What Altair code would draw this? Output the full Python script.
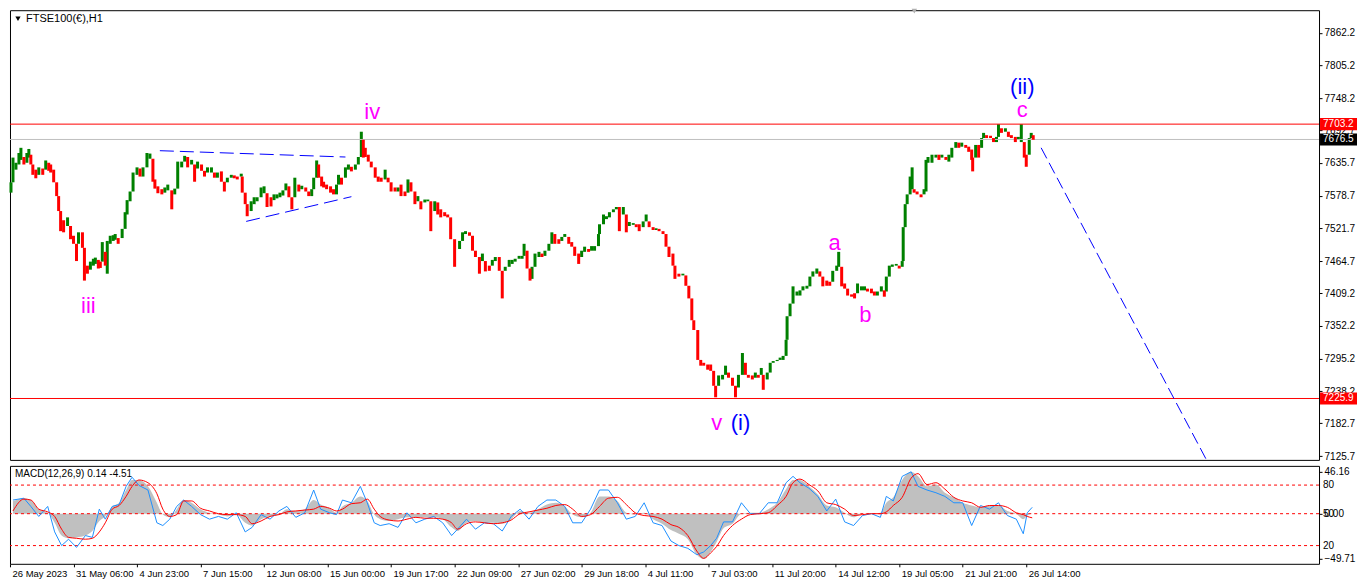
import altair as alt
import pandas as pd
import numpy as np

# ---------------- price data (hourly bars, sampled), bar index from left edge ----------------
bar_idx = [1,3,6,9,11,14,17,19,21,23,26,29,33,36,39,41,44,47,49,51,54,58,61,64,67,69,73,75,78,81,84,86,89,91,93,96,98,
           101,104,106,109,113,116,118,121,124,128,131,134,138,141,144,146,149,153,156,159,163,166,169,173,176,179,183,186,189,193,196,199,
           203,206,209,213,216,219,223,226,229,233,234,237,239,243,246,249,253,256,259,
           263,266,269,272,275,278,281,284,287,291,294,298,301,304,306,309,311,314,316,319,323,326,329,331,334,338,341,344,348,351,354,356,358,
           361,364,368,371,374,378,381,384,388,391,394,398,401,404,408,411,414,418,421,424,428,431,434,438,441,444,448,453,456,459,463,466,469,
           473,476,479,483,486,489,493,496,499,503,506,509,513,516,518,521,524,
           526,529,533,536,539,543,546,549,553,556,559,563,566,569,573,576,579,583,586,589,593,594,598,601,604,608,611,614,618,621,624,628,631,
           634,638,641,644,648,651,654,658,661,664,668,670,674,678,681,684,687,689,693,696,699,703,706,709,711,714,718,721,724,728,731,734,738,
           741,744,748,751,754,757,759,763,766,769,773,776,779,782,783,786,789,
           793,796,799,803,806,809,813,816,819,823,826,829,833,835,838,841,844,848,851,854,858,861,864,868,871,874,878,881,883,886,889,893,896,
           899,900,902,904,907,909,911,914,918,921,923,925,929,933,936,939,943,946,949,953,956,959,963,966,969,970,973,976,979,981,984,988,991,
           994,996,999,1003,1006,1009,1013,1016,1019,1022,1024,1027,1029,1031]
bar_high = [7602,7645,7636,7653,7662,7646,7653,7660,7650,7633,7624,7628,7626,7640,7636,7633,7624,7598,7572,7550,7536,7541,7521,7509,7495,7515,7515,7481,7457,7464,7469,7471,7467,7464,7498,7481,7500,
            7509,7510,7512,7505,7521,7550,7571,7586,7619,7628,7626,7628,7653,7652,7638,7607,7595,7590,7593,7598,7586,7591,7638,7638,7648,7646,7641,7629,7638,7633,7621,7628,
            7628,7619,7619,7621,7603,7610,7615,7614,7612,7617,7605,7581,7559,7569,7576,7576,7593,7595,7581,
            7576,7581,7581,7584,7588,7600,7595,7576,7610,7598,7596,7593,7584,7590,7610,7640,7633,7612,7603,7598,7595,7590,7598,7615,7610,7628,7633,7629,7633,7646,7690,7676,7662,
            7650,7638,7628,7612,7610,7624,7610,7598,7593,7593,7598,7586,7607,7602,7581,7578,7567,7572,7572,7569,7569,7567,7555,7550,7546,7521,7503,7500,7515,7517,7515,7495,7483,
            7472,7478,7465,7457,7467,7472,7472,7448,7455,7467,7467,7469,7474,7474,7495,7464,7448,
            7455,7478,7481,7478,7483,7495,7515,7512,7503,7507,7512,7500,7498,7490,7478,7483,7490,7486,7491,7491,7512,7529,7546,7543,7550,7555,7559,7559,7559,7534,7533,7531,7529,
            7529,7534,7546,7533,7522,7522,7521,7515,7509,7483,7478,7448,7443,7443,7431,7412,7396,7357,7317,7291,7288,7285,7285,7266,7248,7266,7267,7283,7271,7259,7245,7267,7305,
            7283,7267,7266,7271,7267,7279,7266,7271,7288,7291,7293,7297,7300,7328,7369,7391,7421,
            7412,7414,7421,7422,7438,7447,7452,7447,7438,7431,7429,7448,7457,7481,7438,7426,7412,7407,7409,7426,7421,7421,7417,7417,7412,7412,7421,7412,7438,7457,7459,7460,7457,
            7465,7524,7564,7581,7612,7628,7590,7586,7581,7590,7641,7646,7650,7650,7650,7650,7646,7650,7662,7672,7671,7671,7667,7664,7659,7645,7667,7667,7679,7688,7684,7683,7679,
            7681,7703,7696,7696,7688,7684,7681,7681,7703,7655,7650,7679,7688,7684]
bar_low = [7584,7612,7624,7633,7641,7633,7636,7645,7633,7615,7609,7615,7615,7624,7622,7619,7602,7578,7552,7517,7515,7526,7503,7495,7465,7495,7488,7431,7443,7450,7457,7460,7452,7453,7474,7457,7443,
           7495,7500,7502,7495,7509,7529,7546,7569,7602,7615,7612,7612,7638,7643,7603,7591,7583,7581,7584,7588,7555,7581,7615,7628,7640,7628,7633,7603,7626,7622,7612,7619,
           7619,7610,7610,7603,7586,7602,7612,7609,7607,7612,7584,7564,7543,7552,7564,7569,7583,7583,7559,
           7560,7571,7574,7576,7579,7590,7576,7555,7586,7586,7590,7586,7578,7578,7595,7628,7610,7595,7593,7590,7584,7581,7581,7603,7598,7619,7624,7621,7624,7636,7655,7645,7646,
           7638,7628,7610,7603,7603,7607,7602,7586,7586,7586,7578,7578,7584,7586,7564,7569,7555,7567,7569,7517,7552,7546,7541,7543,7541,7503,7455,7486,7507,7512,7509,7483,7472,
           7443,7465,7447,7448,7460,7465,7448,7400,7448,7460,7460,7464,7469,7469,7483,7452,7431,
           7434,7465,7472,7472,7474,7483,7503,7495,7495,7500,7507,7495,7490,7474,7460,7472,7481,7481,7483,7483,7500,7522,7534,7538,7541,7550,7555,7517,7546,7515,7526,7528,7524,
           7517,7524,7534,7524,7519,7519,7517,7512,7490,7472,7457,7434,7438,7440,7422,7400,7362,7345,7293,7283,7283,7276,7274,7248,7228,7250,7259,7267,7262,7248,7228,7262,7288,
           7267,7262,7259,7262,7262,7267,7241,7259,7283,7288,7291,7293,7293,7310,7353,7379,7396,
           7405,7405,7414,7417,7421,7438,7443,7438,7421,7422,7422,7438,7452,7455,7421,7417,7405,7403,7400,7409,7414,7414,7412,7409,7405,7405,7414,7403,7426,7452,7455,7457,7452,
           7455,7500,7546,7564,7586,7590,7584,7581,7576,7584,7586,7636,7636,7645,7641,7645,7641,7638,7645,7662,7662,7664,7662,7655,7641,7621,7655,7645,7662,7681,7679,7679,7672,
           7672,7690,7688,7690,7681,7679,7672,7676,7672,7645,7629,7655,7681,7676]

# ---------------- reference levels and drawn lines ----------------
level_red = [7703.2, 7225.9]
level_gray = [7676.5]
axis_values = [7862.2, 7805.2, 7748.2, 7692.7, 7635.7, 7578.7, 7521.7, 7464.7, 7409.2, 7352.2, 7295.2, 7238.2, 7182.7, 7125.7]

trend_x = [151, 238, 1039]
trend_y = [7657, 7534, 7662]
trend_x2 = [338, 344, 1205]
trend_y2 = [7646, 7577, 7121]
trend_dash = ["tri", "tri", "proj"]

wave_text = ["iii", "iv", "v", "(i)", "a", "b", "(ii)", "c"]
wave_bar = [79, 365, 712, 736, 831, 862, 1020, 1020]
wave_price = [7386, 7724, 7183, 7183, 7497, 7371, 7768, 7727]
wave_color = ["m", "m", "m", "b", "m", "m", "b", "m"]

# ---------------- MACD panel data ----------------
macd_bar = [3,14,21,29,38,45,52,59,67,76,83,90,96,103,110,117,123,130,139,148,154,161,168,175,183,192,201,210,219,228,237,244,253,262,
            271,279,288,297,306,313,322,329,335,344,353,360,367,373,382,391,400,409,418,427,436,445,451,460,469,478,487,496,505,514,523,
            532,541,550,559,567,576,585,594,603,612,621,630,639,648,657,666,674,683,692,699,706,712,719,728,737,746,755,764,773,782,789,
            796,805,814,823,832,841,850,859,868,877,883,890,899,908,915,924,933,942,951,960,969,978,987,996,1005,1014,1021,1025,1030]
macd_main = [13.6,17,15,5,1,-10,-24,-27,-26,-24,-19,-8,-3,8,12,26,37,37,30,12,-1,-4,5,15,12,5,1,-1,-3,-1,-10,-13,-6,-3,
             -1,5,3,5,15,10,6,1,8,12,19,14,-1,-6,-8,-6,-4,-4,-4,-4,-6,-15,-19,-10,-8,-10,-10,-11,-6,3,1,
             5,10,12,8,-1,-4,1,19,19,14,1,-1,1,-6,-11,-18,-22,-28,-45,-49.7,-42,-31,-16,-11,0,1,1,5,12,27,37,
             37,30,21,9,7,1,-4,0,0,1,12,18,37,46,41,30,32,23,18,12,9,7,9,9,3,0,-6,-2,0.14]
macd_signal = [3,16,15,5,2,-3,-17,-26,-27,-28,-27,-20,-10,5,9,19,30,37,34,22,5,-3,-1,14,14,6,3,0,-1,-1,-3,-11,-8,-3,
               -1,2,3,4,5,8,6,3,5,11,12,16,5,-3,-7,-8,-6,-4,-5,-5,-6,-10,-17,-11,-9,-10,-11,-10,-7,0,2,
               4,6,9,10,5,-3,-1,8,17,18,10,1,-2,-3,-6,-12,-15,-24,-41,-49,-43,-36,-24,-13,-6,-1,0,1,9,19,34,
               38,32,25,12,10,5,-2,-1,0,0,2,9,18,39,44,32,34,27,18,14,12,7,9,9,7,1,-1,-3,-4.51]
macd_blue = [15,17,8,-3,8,-20,-35,-28,-37,-24,-26,5,-6,8,10,30,40,31,26,-10,-13,-6,8,15,8,-1,-6,-3,-6,1,-20,-15,-1,-6,
             3,8,-4,1,26,5,1,-1,15,12,30,12,-10,-13,-11,-15,1,-10,-6,-3,-10,-24,-17,-6,-17,-10,-11,-19,-3,5,-6,
             8,15,15,8,-10,-10,5,26,26,12,-6,-3,12,-10,-13,-30,-35,-38,-45,-42,-35,-27,-9,-9,12,0,0,12,12,34,41,
             34,28,19,3,16,-9,-13,-2,0,-4,19,14,41,46,30,26,23,19,12,12,-13,9,5,12,-2,-6,-22,1,7]
macd_levels = [31.4, 0, -35]
macd_level_text = ["80", "50", "20"]
macd_axis_values = [46.16, 0, -49.71]

time_labels = ["26 May 2023", "31 May 06:00", "4 Jun 23:00", "7 Jun 15:00", "12 Jun 08:00", "15 Jun 00:00",
               "19 Jun 17:00", "22 Jun 09:00", "27 Jun 02:00", "29 Jun 18:00", "4 Jul 11:00", "7 Jul 03:00",
               "11 Jul 20:00", "14 Jul 12:00", "19 Jul 05:00", "21 Jul 21:00", "26 Jul 14:00"]

# ---------------- build tables ----------------
FONT = "Liberation Sans"
FS = 10
FT = 9.5
FW = 22
W = 1310
HP = 450
HM = 98
XDOM = [0, 1319]
YDOM = [7119.1, 7901.4]
MDOM = [-55, 52.5]
GREEN = "#008000"
RED = "#ff0000"
MAGENTA = "#ff00ff"
BLUE = "#0000ff"

df = pd.DataFrame({"bar": bar_idx, "high": bar_high, "low": bar_low})
df["mid"] = (df["high"] + df["low"]) / 2
prev_mid = df["mid"].shift(1).fillna(df["mid"])
df["dir"] = np.where(df["mid"] >= prev_mid, "up", "down")
prev_high = df["high"].shift(1).fillna(df["high"])
prev_low = df["low"].shift(1).fillna(df["low"])
df["top"] = np.maximum(df["high"], prev_low)
df["bot"] = np.minimum(df["low"], prev_high)

xs = alt.Scale(domain=XDOM, nice=False, zero=False)
ys = alt.Scale(domain=YDOM, nice=False, zero=False)
ms = alt.Scale(domain=MDOM, nice=False, zero=False)

price_axis = alt.Axis(
    orient="right", values=axis_values, title=None, grid=False, domain=False,
    tickSize=3, tickColor="black", labelPadding=2, labelFontSize=FS, labelColor="black",
    labelFont=FONT, labelOverlap=False, labelBound=False, labelFlush=False,
    labelExpr="format(datum.value, '.1f')")
macd_axis = alt.Axis(
    orient="right", values=macd_axis_values, title=None, grid=False, domain=False,
    tickSize=3, tickColor="black", labelPadding=2, labelFontSize=FS, labelColor="black",
    labelFont=FONT, labelOverlap=False, labelBound=False, labelFlush=False,
    labelExpr="format(datum.value, '.2f')")
time_axis = alt.Axis(
    orient="bottom", values=[64 * i for i in range(17)], title=None, grid=False, domain=False,
    tickSize=3, tickColor="black", labelAlign="left", labelPadding=2, labelOffset=2,
    labelFontSize=FT, labelColor="black", labelFont=FONT, labelOverlap=False, labelBound=False, labelFlush=False,
    labelExpr=str(time_labels).replace('"', "'") + "[round(datum.value / 64)]")

X = lambda f: alt.X(f, scale=xs, axis=None)
Y = lambda f: alt.Y(f, scale=ys, axis=price_axis)
XM = lambda f: alt.X(f, scale=xs, axis=time_axis)
YM = lambda f: alt.Y(f, scale=ms, axis=macd_axis)

# candles
up = alt.Chart(df[df["dir"] == "up"]).mark_rule(strokeWidth=3, color=GREEN).encode(
    x=X("bar:Q"), y=Y("top:Q"), y2="bot:Q")
down = alt.Chart(df[df["dir"] == "down"]).mark_rule(strokeWidth=3, color=RED).encode(
    x=X("bar:Q"), y=Y("top:Q"), y2="bot:Q")

red_lines = alt.Chart(pd.DataFrame({"p": level_red})).mark_rule(color=RED, strokeWidth=1).encode(y=Y("p:Q"))
gray_lines = alt.Chart(pd.DataFrame({"p": level_gray})).mark_rule(color="#c0c0c0", strokeWidth=1).encode(y=Y("p:Q"))

tdf = pd.DataFrame({"x": trend_x, "y": trend_y, "x2": trend_x2, "y2": trend_y2, "kind": trend_dash})
tri = alt.Chart(tdf[tdf.kind == "tri"]).mark_rule(color=BLUE, strokeWidth=1, strokeDash=[14, 6]).encode(
    x=X("x:Q"), y=Y("y:Q"), x2="x2:Q", y2="y2:Q")
proj = alt.Chart(tdf[tdf.kind == "proj"]).mark_rule(color=BLUE, strokeWidth=1, strokeDash=[12, 5]).encode(
    x=X("x:Q"), y=Y("y:Q"), x2="x2:Q", y2="y2:Q")

wdf = pd.DataFrame({"t": wave_text, "bar": wave_bar, "p": wave_price, "c": wave_color})
waves_m = alt.Chart(wdf[wdf.c == "m"]).mark_text(fontSize=FW, font=FONT, baseline="middle", align="center", color=MAGENTA).encode(
    x=X("bar:Q"), y=Y("p:Q"), text="t:N")
waves_b = alt.Chart(wdf[wdf.c == "b"]).mark_text(fontSize=FW, font=FONT, baseline="middle", align="center", color=BLUE).encode(
    x=X("bar:Q"), y=Y("p:Q"), text="t:N")

# price tag boxes on the axis
bdf = pd.DataFrame({"p": [7703.2, 7676.5, 7225.9], "k": ["r", "k", "r"]})
bdf["p1"] = bdf["p"] - 10.5
bdf["p2"] = bdf["p"] + 10.5
bdf["lab"] = bdf["p"].map(lambda v: f"{v:.1f}")
boxes_r = alt.Chart(bdf[bdf.k == "r"]).mark_rect(color=RED).encode(
    x=alt.value(W + 1), x2=alt.value(W + 38), y=Y("p1:Q"), y2="p2:Q")
boxes_k = alt.Chart(bdf[bdf.k == "k"]).mark_rect(color="black").encode(
    x=alt.value(W + 1), x2=alt.value(W + 38), y=Y("p1:Q"), y2="p2:Q")
box_text = alt.Chart(bdf).mark_text(color="white", fontSize=FS, font=FONT, align="left", baseline="middle").encode(
    x=alt.value(W + 4), y=Y("p:Q"), text="lab:N")

title_df = pd.DataFrame({"t": ["FTSE100(€),H1"]})
title_txt = alt.Chart(title_df).mark_text(fontSize=11, font=FONT, align="left", baseline="middle", color="black").encode(
    x=alt.value(16), y=alt.value(9), text="t:N")
title_tri = alt.Chart(title_df).mark_point(shape="triangle-down", filled=True, color="black", size=28, opacity=1).encode(
    x=alt.value(8), y=alt.value(8.5))
top_marker = alt.Chart(title_df).mark_point(shape="triangle-down", filled=True, color="#b0b0b0", size=30, opacity=1).encode(
    x=alt.value(905), y=alt.value(1))

price = alt.layer(up, gray_lines, red_lines, tri, proj, down, waves_m, waves_b, boxes_r, boxes_k, box_text,
                  title_tri, title_txt, top_marker).properties(width=W, height=HP)

# ---------------- MACD ----------------
mdf = pd.DataFrame({"bar": macd_bar, "main": macd_main, "signal": macd_signal, "blue": macd_blue})

hist = alt.Chart(mdf).mark_area(color="#c0c0c0", opacity=1, interpolate="monotone").encode(
    x=XM("bar:Q"), y=YM("main:Q"), y2=alt.datum(0))
lvl = pd.DataFrame({"v": macd_levels, "t": macd_level_text})
lev = alt.Chart(lvl).mark_rule(color=RED, strokeWidth=1, strokeDash=[3, 3]).encode(y=YM("v:Q"))
lev_txt = alt.Chart(lvl).mark_text(fontSize=FS, font=FONT, align="left", baseline="middle", color="black").encode(
    x=alt.value(W + 4), y=YM("v:Q"), text="t:N")
blue = alt.Chart(mdf).mark_line(color="#1e90ff", strokeWidth=1).encode(x=XM("bar:Q"), y=YM("blue:Q"))
sig = alt.Chart(mdf).mark_line(color=RED, strokeWidth=1, interpolate="monotone").encode(x=XM("bar:Q"), y=YM("signal:Q"))
mtitle = alt.Chart(pd.DataFrame({"t": ["MACD(12,26,9) 0.14 -4.51"]})).mark_text(
    fontSize=FS, font=FONT, align="left", baseline="middle", color="black").encode(
    x=alt.value(5), y=alt.value(8), text="t:N")

macd = alt.layer(hist, lev, blue, sig, lev_txt, mtitle).properties(width=W, height=HM)

chart = alt.vconcat(price, macd, spacing=3).properties(
    padding={"left": 0, "top": 0, "right": 0, "bottom": 0},
    background="white",
).configure_view(stroke="black", strokeWidth=1).configure_concat(spacing=3)

chart.save("out.html", embed_options={"renderer": "svg", "actions": False})
